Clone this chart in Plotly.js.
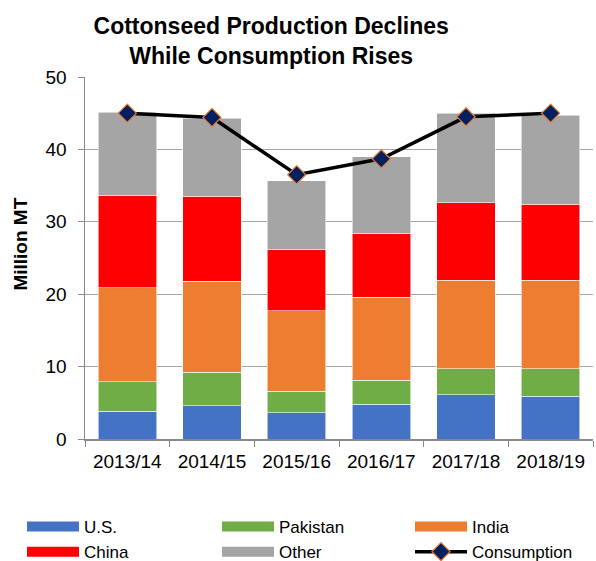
<!DOCTYPE html>
<html>
<head>
<meta charset="utf-8">
<script src="https://cdn.plot.ly/plotly-3.0.1.min.js"></script>
<style>html,body{margin:0;padding:0;background:#fff;}#chart{width:596px;height:561px;}</style>
</head>
<body>
<div id="chart"></div>
<script>
const years = ["2013/14", "2014/15", "2015/16", "2016/17", "2017/18", "2018/19"];
const us = [3.8, 4.6, 3.6, 4.8, 6.1, 5.9];
const pakistan = [4.1, 4.6, 3.0, 3.3, 3.6, 3.8];
const india = [13.0, 12.6, 11.1, 11.5, 12.2, 12.2];
const china = [12.8, 11.7, 8.5, 8.8, 10.7, 10.5];
const other = [11.4, 10.8, 9.5, 10.6, 12.4, 12.3];
const consumption = [45.0, 44.4, 36.5, 38.7, 44.5, 45.0];

const seriesNames = ["U.S.", "Pakistan", "India", "China", "Other"];
const seriesValues = [us, pakistan, india, china, other];
const seriesColors = ["#4472C4", "#70AD47", "#ED7D31", "#FF0000", "#A5A5A5"];
// legend column for each series (U.S./China | Pakistan/Other | India/Consumption)
const legendIds = ["legend", "legend2", "legend3", "legend", "legend2"];

const FONT = "Liberation Sans, Arial, sans-serif";
const traces = [];
seriesValues.forEach((vals, i) => {
  traces.push({
    type: "bar", x: years, y: vals, name: seriesNames[i], showlegend: false,
    marker: {color: seriesColors[i], line: {color: "rgba(255,255,255,0.7)", width: 0.8}},
    hoverinfo: "y+name"
  });
});
seriesValues.forEach((vals, i) => {
  traces.push({
    type: "scatter", mode: "lines", x: [null], y: [null], name: seriesNames[i],
    legend: legendIds[i], line: {color: seriesColors[i], width: 10}, hoverinfo: "skip"
  });
});
traces.push({
  type: "scatter", mode: "lines+markers", x: years, y: consumption, name: "Consumption",
  legend: "legend3",
  line: {color: "#000000", width: 3.5},
  marker: {symbol: "diamond", size: 14, color: "#002060", line: {color: "#ED7D31", width: 1.2}}
});

function legendAt(px) {
  return {
    orientation: "v", xref: "container", yref: "container",
    x: px / 596, xanchor: "left", y: 1 - 509/561, yanchor: "top",
    itemwidth: 52, tracegroupgap: 0,
    font: {family: FONT, size: 17, color: "#000000"},
    traceorder: "normal", bgcolor: "rgba(0,0,0,0)"
  };
}

const layout = {
  width: 596, height: 561,
  margin: {l: 85, r: 3, t: 77, b: 122, autoexpand: false},
  paper_bgcolor: "#ffffff", plot_bgcolor: "#ffffff",
  font: {family: FONT, color: "#000000"},
  barmode: "stack", bargap: 0.31,
  title: {
    text: "<b>Cottonseed Production Declines<br>While Consumption Rises</b>",
    font: {family: FONT, size: 23, color: "#000000"},
    x: 0.455, xanchor: "center", xref: "container",
    y: 0.94, yanchor: "top", yref: "container"
  },
  xaxis: {
    type: "category", showgrid: false, showline: true, linecolor: "#888888", linewidth: 1.5,
    ticks: "outside", tickson: "boundaries", ticklen: 6, tickcolor: "#888888",
    tickfont: {family: FONT, size: 19, color: "#000000"}, ticklabelstandoff: 5,
    tickangle: 0
  },
  yaxis: {
    range: [0, 50], dtick: 10, showgrid: true, gridcolor: "#A6A6A6", gridwidth: 1.2,
    showline: true, linecolor: "#888888", linewidth: 1.5, zeroline: false,
    ticks: "outside", ticklen: 6, tickcolor: "#888888", ticklabelstandoff: 7,
    tickfont: {family: FONT, size: 19, color: "#000000"}
  },
  annotations: [{
    text: "<b>Million MT</b>", textangle: -90, showarrow: false,
    xref: "paper", yref: "paper", x: (21 - 85) / 508, y: 0.537,
    xanchor: "center", yanchor: "middle",
    font: {family: FONT, size: 19, color: "#000000"}
  }],
  showlegend: true,
  legend: legendAt(22),
  legend2: legendAt(217),
  legend3: legendAt(410)
};

Plotly.newPlot("chart", traces, layout, {displayModeBar: false, staticPlot: true});
</script>
</body>
</html>
